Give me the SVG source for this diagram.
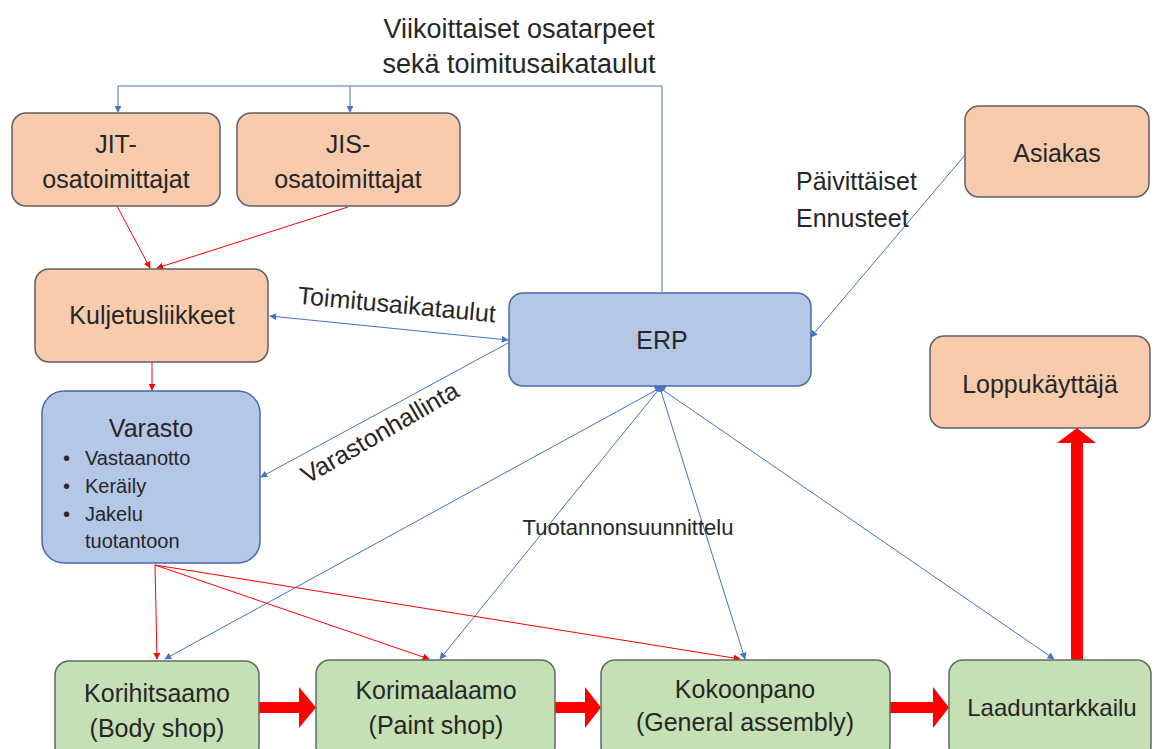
<svg xmlns="http://www.w3.org/2000/svg" width="1157" height="749" viewBox="0 0 1157 749">
<style>
text{font-family:"Liberation Sans",Arial,sans-serif;fill:#262626;}
.t{font-size:25px;text-anchor:middle;}
.lab{font-size:25px;}
.small{font-size:20px;}
.peach{fill:#F8CBAD;stroke:#5f5f66;stroke-width:1.5;}
.blue{fill:#B4C7E7;stroke:#4a6aa8;stroke-width:1.5;}
.green{fill:#C5E0B4;stroke:#5f6b5f;stroke-width:1.5;}
.bl{fill:none;stroke:#4472C4;stroke-width:1;}
.rd{fill:none;stroke:#FF0000;stroke-width:1;}
.thick{fill:#FF0000;stroke:none;}
</style>
<defs>
<marker id="ab" viewBox="0 0 10 10" refX="9" refY="5" markerWidth="7" markerHeight="7" orient="auto-start-reverse" markerUnits="userSpaceOnUse">
<path d="M0,0 L10,5 L0,10 Z" fill="#4472C4"/>
</marker>
<marker id="ar" viewBox="0 0 10 10" refX="9" refY="5" markerWidth="7" markerHeight="7" orient="auto" markerUnits="userSpaceOnUse">
<path d="M0,0 L10,5 L0,10 Z" fill="#FF0000"/>
</marker>
</defs>
<rect width="1157" height="749" fill="#FFFFFF"/>

<g id="connectors">
<path class="bl" d="M662,293 V86 H118 V112" marker-end="url(#ab)"/>
<path class="bl" d="M350,86 V112" marker-end="url(#ab)"/>
<path class="bl" d="M965,155 L811,337" marker-end="url(#ab)"/>
<path class="bl" d="M270,316 L508,340" marker-start="url(#ab)" marker-end="url(#ab)"/>
<path class="bl" d="M508,343 L261,477" marker-end="url(#ab)"/>
<path class="bl" d="M660,388 L165,659" marker-end="url(#ab)"/>
<path class="bl" d="M660,388 L440,659" marker-end="url(#ab)"/>
<path class="bl" d="M660,388 L745,659" marker-end="url(#ab)"/>
<path class="bl" d="M660,388 L1054,659" marker-end="url(#ab)"/>
<path d="M654,386 A6,6 0 0 0 666,386 Z" fill="#4472C4"/>
<path class="rd" d="M117,206 L150,268" marker-end="url(#ar)"/>
<path class="rd" d="M348,207 L157,268" marker-end="url(#ar)"/>
<path class="rd" d="M152,362 V390" marker-end="url(#ar)"/>
<path class="rd" d="M155,565 L157,659" marker-end="url(#ar)"/>
<path class="rd" d="M155,565 L429,659" marker-end="url(#ar)"/>
<path class="rd" d="M155,565 L740,659" marker-end="url(#ar)"/>
<path class="thick" d="M259,702 H299 V687 L316,707.5 L299,728 V713 H259 Z"/>
<path class="thick" d="M555,702 H585 V687 L601,707.5 L585,728 V713 H555 Z"/>
<path class="thick" d="M890,702 H933 V687 L949,707.5 L933,728 V713 H890 Z"/>
<path class="thick" d="M1071,660 V443 H1057 L1077,428 L1096,443 H1083 V660 Z"/>
</g>

<g id="label-weekly">
<text class="lab" x="519" y="38" text-anchor="middle" style="font-size:27px">Viikoittaiset osatarpeet</text>
<text class="lab" x="519" y="73" text-anchor="middle" style="font-size:27px">sekä toimitusaikataulut</text>
</g>
<g id="label-daily">
<text class="lab" x="796" y="190">Päivittäiset</text>
<text class="lab" x="796" y="227">Ennusteet</text>
</g>
<text id="label-toimitus" class="lab" x="396" y="313" text-anchor="middle" transform="rotate(5.4 396 313)">Toimitusaikataulut</text>
<text id="label-varastonhallinta" class="lab" x="384" y="440" text-anchor="middle" transform="rotate(-30 384 440)">Varastonhallinta</text>
<text id="label-tuotanto" class="lab" x="628" y="535" text-anchor="middle" style="font-size:22px">Tuotannonsuunnittelu</text>

<g id="jit">
<rect class="peach" x="12" y="113" width="208" height="93" rx="14"/>
<text class="t" x="116" y="153">JIT-</text>
<text class="t" x="116" y="188">osatoimittajat</text>
</g>
<g id="jis">
<rect class="peach" x="237" y="113" width="223" height="93" rx="14"/>
<text class="t" x="348" y="153">JIS-</text>
<text class="t" x="348" y="188">osatoimittajat</text>
</g>
<g id="asiakas">
<rect class="peach" x="965" y="106" width="184" height="91" rx="14"/>
<text class="t" x="1057" y="162">Asiakas</text>
</g>
<g id="kuljetus">
<rect class="peach" x="35" y="269" width="233" height="93" rx="14"/>
<text class="t" x="152" y="324">Kuljetusliikkeet</text>
</g>
<g id="erp">
<rect class="blue" x="509" y="293" width="302" height="93" rx="14"/>
<text class="t" x="662" y="349">ERP</text>
</g>
<g id="loppukayttaja">
<rect class="peach" x="930" y="336" width="220" height="92" rx="14"/>
<text class="t" x="1040" y="393">Loppukäyttäjä</text>
</g>
<g id="varasto">
<rect class="blue" x="42" y="391" width="218" height="172" rx="22"/>
<text class="t" x="151" y="437">Varasto</text>
<text class="small" x="63" y="465">•</text>
<text class="small" x="85" y="465">Vastaanotto</text>
<text class="small" x="63" y="493">•</text>
<text class="small" x="85" y="493">Keräily</text>
<text class="small" x="63" y="521">•</text>
<text class="small" x="85" y="521">Jakelu</text>
<text class="small" x="85" y="548">tuotantoon</text>
</g>
<g id="korihitsaamo">
<rect class="green" x="55" y="661" width="204" height="100" rx="14"/>
<text class="t" x="157" y="702">Korihitsaamo</text>
<text class="t" x="157" y="737">(Body shop)</text>
</g>
<g id="korimaalaamo">
<rect class="green" x="316" y="660" width="239" height="100" rx="14"/>
<text class="t" x="436" y="699">Korimaalaamo</text>
<text class="t" x="436" y="734">(Paint shop)</text>
</g>
<g id="kokoonpano">
<rect class="green" x="601" y="660" width="289" height="100" rx="14"/>
<text class="t" x="745" y="698">Kokoonpano</text>
<text class="t" x="745" y="731">(General assembly)</text>
</g>
<g id="laaduntarkkailu">
<rect class="green" x="949" y="660" width="202" height="100" rx="14"/>
<text class="t" x="1052" y="716" style="font-size:24px">Laaduntarkkailu</text>
</g>
</svg>
